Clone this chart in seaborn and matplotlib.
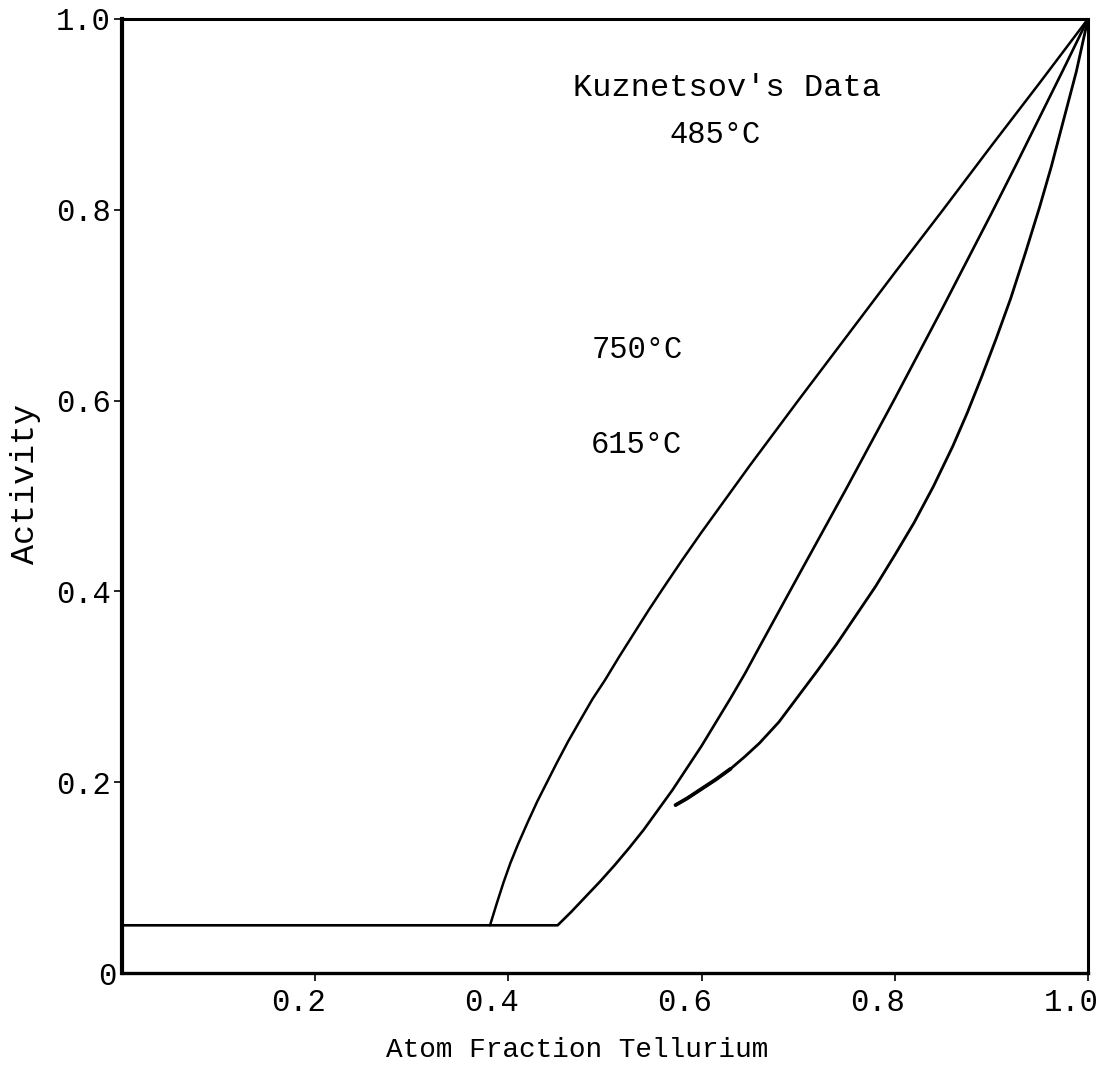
import matplotlib
matplotlib.use("Agg")
import matplotlib.pyplot as plt
import matplotlib.transforms as mtransforms
import seaborn as sns
import pandas as pd

# ---- data (atom fraction Te, activity) ----
x_485 = [0.381, 0.388, 0.395, 0.402, 0.410, 0.420, 0.430, 0.440, 0.450, 0.462,
         0.475, 0.487, 0.500, 0.515, 0.530, 0.545, 0.560, 0.580, 0.600, 0.625,
         0.650, 0.675, 0.700, 0.750, 0.800, 0.850, 0.900, 0.950, 1.0]
y_485 = [0.050, 0.073, 0.095, 0.115, 0.135, 0.158, 0.180, 0.200, 0.220, 0.243,
         0.266, 0.287, 0.307, 0.332, 0.356, 0.380, 0.403, 0.433, 0.462, 0.497,
         0.532, 0.566, 0.600, 0.667, 0.734, 0.800, 0.867, 0.933, 1.0]

x_750 = [0.0, 0.451, 0.465, 0.480, 0.495, 0.510, 0.525, 0.540, 0.555, 0.570,
         0.585, 0.600, 0.615, 0.630, 0.645, 0.660, 0.680, 0.700, 0.725, 0.750,
         0.775, 0.800, 0.825, 0.850, 0.875, 0.900, 0.925, 0.950, 0.975, 1.0]
y_750 = [0.050, 0.050, 0.064, 0.080, 0.096, 0.113, 0.131, 0.150, 0.171, 0.192,
         0.215, 0.238, 0.263, 0.288, 0.314, 0.342, 0.379, 0.416, 0.462, 0.508,
         0.555, 0.602, 0.650, 0.698, 0.747, 0.796, 0.846, 0.897, 0.948, 1.0]

x_615 = [0.573, 0.585, 0.600, 0.615, 0.630, 0.645, 0.660, 0.680, 0.700, 0.720,
         0.740, 0.760, 0.780, 0.800, 0.820, 0.840, 0.860, 0.875, 0.890, 0.905,
         0.920, 0.935, 0.950, 0.962, 0.975, 0.988, 1.0]
y_615 = [0.176, 0.183, 0.193, 0.203, 0.214, 0.227, 0.241, 0.263, 0.290, 0.317,
         0.345, 0.375, 0.405, 0.438, 0.472, 0.510, 0.552, 0.587, 0.625, 0.665,
         0.707, 0.754, 0.803, 0.845, 0.895, 0.945, 1.0]

x_ticks = [0.2, 0.4, 0.6, 0.8, 1.0]
x_tick_labels = ["0.2", "0.4", "0.6", "0.8", "1.0"]
y_ticks = [0.2, 0.4, 0.6, 0.8, 1.0]
y_tick_labels = ["0.2", "0.4", "0.6", "0.8", "1.0"]

title_text = "Kuznetsov's Data"
labels = {"485": "485°C", "750": "750°C", "615": "615°C"}

sns.set_theme(style="white")
plt.rcParams["font.family"] = ["Liberation Mono", "DejaVu Sans"]

fig = plt.figure(figsize=(11.08, 10.78), dpi=100)
ax = fig.add_axes([0.1101, 0.0974, 0.8718, 0.885])

series = [(x_485, y_485, 1.8), (x_750, y_750, 1.9), (x_615, y_615, 2.0)]
for xs, ys, lw in series:
    df = pd.DataFrame({"x": xs, "y": ys})
    sns.lineplot(data=df, x="x", y="y", sort=False, estimator=None,
                 color="black", linewidth=lw, ax=ax)

# heavier pen stroke at the lower start of the 615 °C curve
df_start = pd.DataFrame({"x": x_615[:5], "y": y_615[:5]})
sns.lineplot(data=df_start, x="x", y="y", sort=False, estimator=None,
             color="black", linewidth=2.7, ax=ax)

ax.set_xlim(0, 1)
ax.set_ylim(0, 1)
ax.set_xlabel("")
ax.set_ylabel("")

for side in ["left", "right", "top", "bottom"]:
    ax.spines[side].set_visible(True)
    ax.spines[side].set_color("black")
ax.spines["left"].set_linewidth(3.0)
ax.spines["bottom"].set_linewidth(2.4)
ax.spines["top"].set_linewidth(2.2)
ax.spines["right"].set_linewidth(2.2)

ax.set_xticks(x_ticks)
ax.set_xticklabels(x_tick_labels)
ax.set_yticks(y_ticks)
ax.set_yticklabels(y_tick_labels)
ax.tick_params(axis="both", which="major", direction="out", length=6,
               width=1.2, color="black", labelsize=22, labelcolor="black",
               bottom=True, left=True)
ax.tick_params(axis="x", pad=5)
ax.tick_params(axis="y", pad=2)

offset = mtransforms.ScaledTranslation(-0.17, 0, fig.dpi_scale_trans)
for lab in ax.get_xticklabels():
    lab.set_transform(lab.get_transform() + offset)

ax.text(-0.0155, -0.004, "0", ha="center", va="center", fontsize=22,
        color="black", clip_on=False)

ax.text(0.626, 0.928, title_text, ha="center", va="center", fontsize=23, color="black")
ax.text(0.614, 0.878, labels["485"], ha="center", va="center", fontsize=22, color="black")
ax.text(0.533, 0.653, labels["750"], ha="center", va="center", fontsize=22, color="black")
ax.text(0.533, 0.553, labels["615"], ha="center", va="center", fontsize=22, color="black")

fig.text(577 / 1108, 1 - 1050 / 1078, "Atom Fraction Tellurium", ha="center",
         va="center", fontsize=20, color="black")
fig.text(26 / 1108, 1 - 484 / 1078, "Activity", ha="center", va="center",
         rotation=90, fontsize=24, color="black")

fig.savefig("out.png", dpi=100, facecolor="white")
